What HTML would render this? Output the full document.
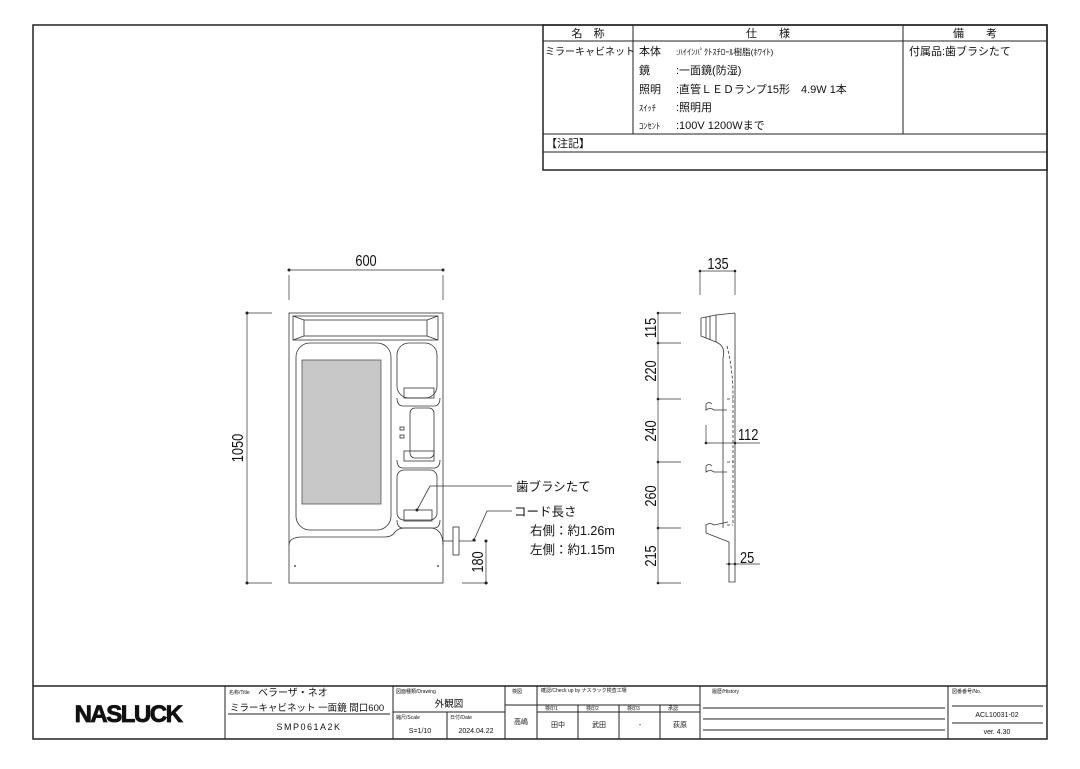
<!DOCTYPE html>
<html><head><meta charset="utf-8"><style>
body{margin:0;background:#fff;}
svg text{font-family:"Liberation Sans","Noto Sans CJK JP",sans-serif;fill:#111;}
</style></head><body>
<svg width="1080" height="764" viewBox="0 0 1080 764" xmlns="http://www.w3.org/2000/svg">
<g fill="none" stroke="#222" stroke-width="1">
<rect x="33" y="25" width="1014" height="714" stroke-width="1.5"/>
<rect x="543" y="25" width="504" height="145" stroke-width="1.5"/>
<line x1="543" y1="41" x2="1047" y2="41"/>
<line x1="633" y1="25" x2="633" y2="134"/>
<line x1="903" y1="25" x2="903" y2="134"/>
<line x1="543" y1="134" x2="1047" y2="134"/>
<line x1="543" y1="152" x2="1047" y2="152"/>
<line x1="33" y1="686" x2="1047" y2="686" stroke-width="1.5"/>
<line x1="225" y1="686" x2="225" y2="739"/>
<line x1="393" y1="686" x2="393" y2="739"/>
<line x1="505" y1="686" x2="505" y2="739"/>
<line x1="537" y1="686" x2="537" y2="739"/>
<line x1="700" y1="686" x2="700" y2="739"/>
<line x1="948" y1="686" x2="948" y2="739"/>
<line x1="228" y1="714" x2="390" y2="714"/>
<line x1="393" y1="712" x2="505" y2="712"/>
<line x1="447" y1="712" x2="447" y2="739"/>
<line x1="537" y1="705" x2="700" y2="705"/>
<line x1="537" y1="712" x2="700" y2="712"/>
<line x1="505" y1="705" x2="537" y2="705"/>
<line x1="578" y1="705" x2="578" y2="739"/>
<line x1="619" y1="705" x2="619" y2="739"/>
<line x1="660" y1="705" x2="660" y2="739"/>
<line x1="703" y1="708" x2="945" y2="708"/>
<line x1="703" y1="719" x2="945" y2="719"/>
<line x1="703" y1="730" x2="945" y2="730"/>
<line x1="952" y1="706" x2="1043" y2="706"/>
<line x1="952" y1="723" x2="1043" y2="723"/>
</g>
<g font-size="11">
<text x="588" y="37" text-anchor="middle">名　称</text>
<text x="768" y="37" text-anchor="middle">仕　　様</text>
<text x="975" y="37" text-anchor="middle">備　　考</text>
<text x="545" y="55" font-size="10">ミラーキャビネット</text>
<text x="639" y="55">本体</text><text x="676" y="55" font-size="8.5">:ﾊｲｲﾝﾊﾟｸﾄｽﾁﾛｰﾙ樹脂(ﾎﾜｲﾄ)</text>
<text x="639" y="74">鏡</text><text x="676" y="74">:一面鏡(防湿)</text>
<text x="639" y="93">照明</text><text x="676" y="93">:直管ＬＥＤランプ15形　4.9W 1本</text>
<text x="639" y="111" font-size="8.5">ｽｲｯﾁ</text><text x="676" y="111">:照明用</text>
<text x="639" y="129" font-size="8.5">ｺﾝｾﾝﾄ</text><text x="676" y="129">:100V 1200Wまで</text>
<text x="909" y="55">付属品:歯ブラシたて</text>
<text x="546" y="147">【注記】</text>
</g>
<text x="128" y="722" font-size="24" font-weight="bold" text-anchor="middle" letter-spacing="-1.5" stroke="#111" stroke-width="0.8" style="font-family:'Liberation Sans',sans-serif">NASLUCK</text>
<g font-size="5">
<text x="229" y="694">名称/Title</text><text x="396" y="693">図面種類/Drawing</text>
<text x="396" y="719">縮尺/Scale</text><text x="450" y="719">日付/Date</text>
<text x="512" y="693">検図</text><text x="541" y="692">確認/Check up by ナスラック検査工場</text>
<text x="712" y="693">履歴/History</text><text x="952" y="693">図番番号/No.</text>
<text x="545" y="710">検印1</text><text x="586" y="710">検印2</text><text x="627" y="710">検印3</text><text x="668" y="710">承認</text>
</g>
<g font-size="10">
<text x="258" y="696">ベラーザ・ネオ</text>
<text x="230" y="711" font-size="9.5">ミラーキャビネット 一面鏡 間口600</text>
<text x="309" y="730" font-size="9" text-anchor="middle" letter-spacing="1.5">SMP061A2K</text>
<text x="449" y="707" font-size="9.5" text-anchor="middle">外観図</text>
<text x="420" y="733" font-size="7" text-anchor="middle">S=1/10</text>
<text x="476" y="733" font-size="7" text-anchor="middle">2024.04.22</text>
<text x="521" y="724" font-size="7" text-anchor="middle">高嶋</text>
<text x="558" y="727" font-size="7" text-anchor="middle">田中</text>
<text x="599" y="727" font-size="7" text-anchor="middle">武田</text>
<text x="640" y="727" font-size="7" text-anchor="middle">-</text>
<text x="680" y="727" font-size="7" text-anchor="middle">荻原</text>
<text x="997" y="717" font-size="7" text-anchor="middle">ACL10031-02</text>
<text x="997" y="734" font-size="7" text-anchor="middle">ver. 4.30</text>
</g>
<g fill="none" stroke="#333" stroke-width="0.8">
<rect x="289" y="313" width="154" height="270"/>
<rect x="293" y="316" width="145" height="24"/>
<rect x="304" y="320" width="123" height="16"/>
<line x1="293" y1="316" x2="304" y2="320"/><line x1="438" y1="316" x2="427" y2="320"/>
<line x1="293" y1="340" x2="304" y2="336"/><line x1="438" y1="340" x2="427" y2="336"/>
<path d="M289 545 Q289 538 300 537 L385 537 Q392 537 395 532 Q398 528 405 528 L432 528 Q443 530 443 545"/>
<rect x="296" y="343" width="95" height="187" rx="14"/>
<rect x="397" y="343" width="40" height="55" rx="12"/>
<rect x="404" y="388" width="30" height="10"/>
<path d="M397 398 Q397 405 402 406 L435 406 Q440 405 440 398"/>
<rect x="410" y="408" width="24" height="50" rx="5"/>
<rect x="404" y="451" width="30" height="10"/>
<path d="M397 460 Q397 467 402 468 L435 468 Q440 467 440 460"/>
<rect x="397" y="470" width="40" height="50" rx="7"/>
<rect x="404" y="510" width="28" height="11"/>
<path d="M397 520 Q397 527 402 528 L435 528 Q440 527 440 520"/>
<rect x="400" y="427" width="4" height="3"/><rect x="400" y="435" width="4" height="3"/>
<rect x="453" y="527" width="6" height="28"/>
<line x1="443" y1="541" x2="453" y2="541"/><line x1="459" y1="541" x2="476" y2="541"/>
</g>
<rect x="302" y="360" width="79" height="144" fill="#c8c8c8" stroke="#555" stroke-width="0.8"/>
<circle cx="295" cy="566" r="1" fill="#555"/><circle cx="438" cy="566" r="1" fill="#555"/>
<g fill="none" stroke="#333" stroke-width="0.8">
<polyline points="417,510 430,486 512,486"/>
<polyline points="474,540 487,511 512,511"/>
</g>
<circle cx="417" cy="510" r="1.5" fill="#222"/><circle cx="474" cy="540" r="1.5" fill="#222"/>
<g font-size="12.5">
<text x="516" y="491">歯ブラシたて</text>
<text x="514" y="516">コード長さ</text>
<text x="530" y="535">右側：約1.26m</text>
<text x="530" y="554">左側：約1.15m</text>
</g>
<g stroke="#333" stroke-width="0.7" fill="none">
<line x1="289" y1="270" x2="443" y2="270"/>
<line x1="289" y1="275" x2="289" y2="300"/><line x1="443" y1="275" x2="443" y2="300"/>
<line x1="247" y1="313" x2="247" y2="583"/>
<line x1="247" y1="313" x2="272" y2="313"/><line x1="247" y1="583" x2="272" y2="583"/>
<line x1="486" y1="541" x2="486" y2="583"/>
<line x1="462" y1="583" x2="488" y2="583"/>
</g>
<g fill="#222"><circle cx="289" cy="270" r="1.5"/><circle cx="443" cy="270" r="1.5"/>
<circle cx="247" cy="313" r="1.5"/><circle cx="247" cy="583" r="1.5"/>
<circle cx="486" cy="541" r="1.5"/><circle cx="486" cy="583" r="1.5"/></g>
<g font-size="16">
<text transform="translate(366,266) scale(0.8,1)" text-anchor="middle">600</text>
<text transform="translate(243,448) rotate(-90) scale(0.8,1)" text-anchor="middle">1050</text>
<text transform="translate(483,562) rotate(-90) scale(0.8,1)" text-anchor="middle">180</text>
<text transform="translate(718,269) scale(0.8,1)" text-anchor="middle">135</text>
<text transform="translate(738,440) scale(0.8,1)">112</text>
<text transform="translate(740,563) scale(0.8,1)">25</text>
<text transform="translate(656,328) rotate(-90) scale(0.8,1)" text-anchor="middle">115</text>
<text transform="translate(656,371) rotate(-90) scale(0.8,1)" text-anchor="middle">220</text>
<text transform="translate(656,431) rotate(-90) scale(0.8,1)" text-anchor="middle">240</text>
<text transform="translate(656,496) rotate(-90) scale(0.8,1)" text-anchor="middle">260</text>
<text transform="translate(656,556) rotate(-90) scale(0.8,1)" text-anchor="middle">215</text>
</g>
<g stroke="#333" stroke-width="0.7" fill="none">
<line x1="700" y1="271" x2="735" y2="271"/>
<line x1="700" y1="271" x2="700" y2="295"/><line x1="735" y1="271" x2="735" y2="295"/>
<line x1="658" y1="313" x2="658" y2="583"/>
<line x1="658" y1="313" x2="681" y2="313"/><line x1="658" y1="343" x2="681" y2="343"/>
<line x1="658" y1="399" x2="681" y2="399"/><line x1="658" y1="462" x2="681" y2="462"/>
<line x1="658" y1="528" x2="681" y2="528"/><line x1="658" y1="583" x2="681" y2="583"/>
<line x1="706" y1="443" x2="760" y2="443"/><line x1="706" y1="425" x2="706" y2="443"/>
<line x1="726" y1="564" x2="760" y2="564"/>
</g>
<g fill="#222"><circle cx="700" cy="271" r="1.3"/><circle cx="735" cy="271" r="1.3"/>
<circle cx="658" cy="313" r="1.3"/><circle cx="658" cy="343" r="1.3"/><circle cx="658" cy="399" r="1.3"/>
<circle cx="658" cy="462" r="1.3"/><circle cx="658" cy="528" r="1.3"/><circle cx="658" cy="583" r="1.3"/>
<circle cx="706" cy="443" r="1.3"/><circle cx="735" cy="443" r="1.3"/>
<circle cx="729" cy="564" r="1.3"/><circle cx="735" cy="564" r="1.3"/></g>
<g stroke="#333" stroke-width="0.8" fill="none">
<path d="M735 313 L735 582 L729 582 L729 542 L706 533 L706 525 Q710 522 714 525 L728 522"/>
<path d="M701 318 L716 315 L735 313"/>
<path d="M701 318 L701 336 L716 342 Q726 346 723 358 L723 528"/>
<line x1="716" y1="315" x2="716" y2="342"/><line x1="706" y1="317" x2="706" y2="338"/><line x1="710" y1="316" x2="710" y2="340"/>
<path d="M706 404 L706 410 Q710 407 714 410 L727 410 M706 404 Q709 401 712 404"/>
<path d="M706 466 L706 472 Q710 469 714 472 L727 472 M706 466 Q709 463 712 466"/>
<path d="M727 346 Q733 370 733 395" stroke-dasharray="3,2"/>
<path d="M733 395 L733 525 M727 399 L733 399 M727 462 L733 462 M727 525 L733 525" stroke-dasharray="3,2"/>
</g>
</svg>
</body></html>
